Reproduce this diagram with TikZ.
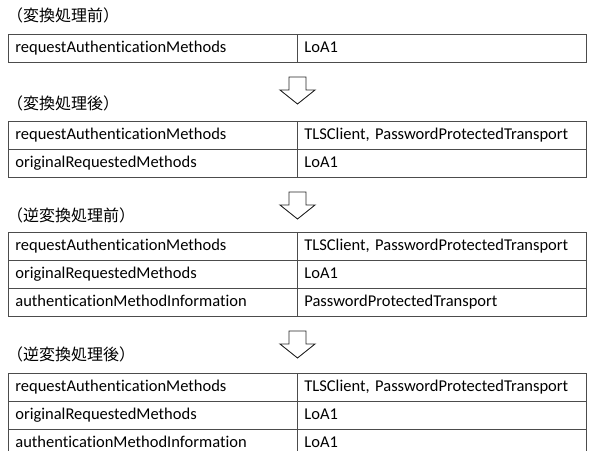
\documentclass[tikz,border=0pt]{standalone}
\usepackage{fontspec}
\setmainfont[RawFeature=-liga]{Carlito}
\newfontfamily\jpfont{Noto Sans CJK JP}
\usepackage{tikz}
\frenchspacing

\begin{document}
\begin{tikzpicture}[
  x=1pt, y=-1pt,
  cell/.style={draw=black!70,line width=0.8pt,anchor=north west,minimum width=289pt,minimum height=28pt,
    text width=275pt,inner xsep=7pt,inner ysep=0pt,align=left,text height=12pt,text depth=4pt,
    font=\fontsize{16.5}{18}\selectfont},
  title/.style={anchor=west,inner sep=0pt,font=\jpfont\fontsize{16}{18}\selectfont},
  blockarr/.style={draw=black!85,line width=0.9pt,fill=white,line join=miter},
]
  \clip (0,0) rectangle (589,450);

  % before conversion
  \node[title] (t1) at (7,15) {（変換処理前）};
  \node[cell] (k1a) at (8,34)   {requestAuthenticationMethods};
  \node[cell] (v1a) at (297,34) {LoA1};

  % after conversion
  \node[title] (t2) at (7,103) {（変換処理後）};
  \node[cell] (k2a) at (8,121)   {requestAuthenticationMethods};
  \node[cell] (v2a) at (297,121) {TLSClient, PasswordProtectedTransport};
  \node[cell] (k2b) at (8,149)   {originalRequestedMethods};
  \node[cell] (v2b) at (297,149) {LoA1};

  % before reverse conversion
  \node[title] (t3) at (7,215) {（逆変換処理前）};
  \node[cell] (k3a) at (8,232)   {requestAuthenticationMethods};
  \node[cell] (v3a) at (297,232) {TLSClient, PasswordProtectedTransport};
  \node[cell] (k3b) at (8,260)   {originalRequestedMethods};
  \node[cell] (v3b) at (297,260) {LoA1};
  \node[cell] (k3c) at (8,288)   {authenticationMethodInformation};
  \node[cell] (v3c) at (297,288) {PasswordProtectedTransport};

  % after reverse conversion
  \node[title] (t4) at (7,354) {（逆変換処理後）};
  \node[cell] (k4a) at (8,373)   {requestAuthenticationMethods};
  \node[cell] (v4a) at (297,373) {TLSClient, PasswordProtectedTransport};
  \node[cell] (k4b) at (8,401)   {originalRequestedMethods};
  \node[cell] (v4b) at (297,401) {LoA1};
  \node[cell] (k4c) at (8,429)   {authenticationMethodInformation};
  \node[cell] (v4c) at (297,429) {LoA1};

  % down arrows
  \foreach \ay in {77,192,331}
    \draw[blockarr] (289,\ay) -- (306,\ay) -- (306,\ay+13) -- (315,\ay+13) -- (297.5,\ay+27)
      -- (280,\ay+13) -- (289,\ay+13) -- cycle;
\end{tikzpicture}
\end{document}
